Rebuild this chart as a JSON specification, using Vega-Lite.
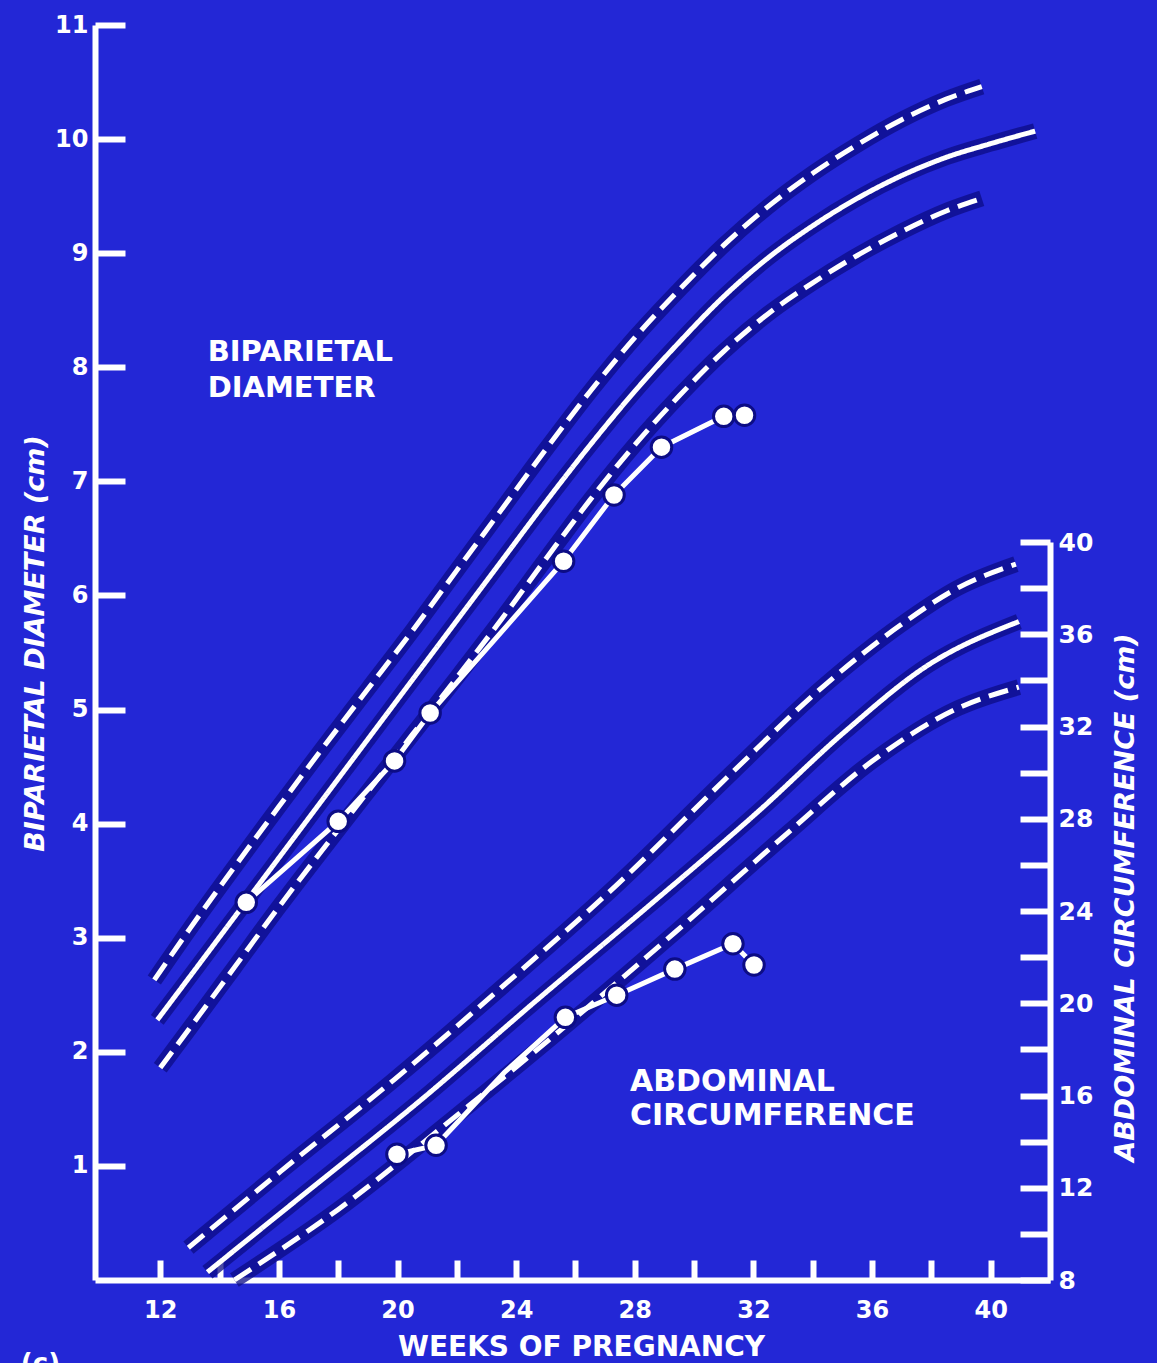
{
  "$schema": "https://vega.github.io/schema/vega-lite/v6.json",
  "width": 955,
  "height": 1255,
  "autosize": {"type": "none"},
  "padding": {"left": 95, "top": 25, "right": 107, "bottom": 83},
  "background": "#2327d6",
  "config": {
    "view": {"stroke": null},
    "axis": {
      "grid": false,
      "domainColor": "white",
      "domainWidth": 6,
      "tickColor": "white",
      "tickWidth": 6,
      "labelColor": "white",
      "labelFont": "DejaVu Sans",
      "labelFontWeight": "bold",
      "labelFontSize": 24,
      "titleColor": "white",
      "titleFont": "DejaVu Sans",
      "titleFontWeight": "bold"
    }
  },
  "datasets": {
    "bpd_curves": [
      {"series": "upper", "week": 11.8, "bpd": 2.63},
      {"series": "upper", "week": 13.0, "bpd": 3.08},
      {"series": "upper", "week": 14.5, "bpd": 3.62},
      {"series": "upper", "week": 16.0, "bpd": 4.15},
      {"series": "upper", "week": 17.5, "bpd": 4.67},
      {"series": "upper", "week": 19.0, "bpd": 5.18},
      {"series": "upper", "week": 20.5, "bpd": 5.69},
      {"series": "upper", "week": 22.0, "bpd": 6.22},
      {"series": "upper", "week": 23.5, "bpd": 6.75},
      {"series": "upper", "week": 25.0, "bpd": 7.28},
      {"series": "upper", "week": 26.5, "bpd": 7.79},
      {"series": "upper", "week": 28.0, "bpd": 8.26},
      {"series": "upper", "week": 29.5, "bpd": 8.68},
      {"series": "upper", "week": 31.0, "bpd": 9.07},
      {"series": "upper", "week": 32.5, "bpd": 9.41},
      {"series": "upper", "week": 34.0, "bpd": 9.7},
      {"series": "upper", "week": 35.5, "bpd": 9.95},
      {"series": "upper", "week": 37.0, "bpd": 10.17},
      {"series": "upper", "week": 38.5, "bpd": 10.35},
      {"series": "upper", "week": 39.7, "bpd": 10.46},
      {"series": "mean", "week": 11.9, "bpd": 2.28},
      {"series": "mean", "week": 13.0, "bpd": 2.66},
      {"series": "mean", "week": 14.5, "bpd": 3.18},
      {"series": "mean", "week": 16.0, "bpd": 3.7},
      {"series": "mean", "week": 17.5, "bpd": 4.22},
      {"series": "mean", "week": 19.0, "bpd": 4.74},
      {"series": "mean", "week": 20.5, "bpd": 5.26},
      {"series": "mean", "week": 22.0, "bpd": 5.78},
      {"series": "mean", "week": 23.5, "bpd": 6.3},
      {"series": "mean", "week": 25.0, "bpd": 6.82},
      {"series": "mean", "week": 26.5, "bpd": 7.32},
      {"series": "mean", "week": 28.0, "bpd": 7.79},
      {"series": "mean", "week": 29.5, "bpd": 8.22},
      {"series": "mean", "week": 31.0, "bpd": 8.62},
      {"series": "mean", "week": 32.5, "bpd": 8.96},
      {"series": "mean", "week": 34.0, "bpd": 9.24},
      {"series": "mean", "week": 35.5, "bpd": 9.48},
      {"series": "mean", "week": 37.0, "bpd": 9.68},
      {"series": "mean", "week": 38.5, "bpd": 9.84},
      {"series": "mean", "week": 40.0, "bpd": 9.96},
      {"series": "mean", "week": 41.5, "bpd": 10.07},
      {"series": "lower", "week": 12.0, "bpd": 1.86},
      {"series": "lower", "week": 13.0, "bpd": 2.21},
      {"series": "lower", "week": 14.5, "bpd": 2.74},
      {"series": "lower", "week": 16.0, "bpd": 3.27},
      {"series": "lower", "week": 17.5, "bpd": 3.78},
      {"series": "lower", "week": 19.0, "bpd": 4.28},
      {"series": "lower", "week": 20.5, "bpd": 4.78},
      {"series": "lower", "week": 22.0, "bpd": 5.28},
      {"series": "lower", "week": 23.5, "bpd": 5.79},
      {"series": "lower", "week": 25.0, "bpd": 6.32},
      {"series": "lower", "week": 26.5, "bpd": 6.84},
      {"series": "lower", "week": 28.0, "bpd": 7.32},
      {"series": "lower", "week": 29.5, "bpd": 7.75},
      {"series": "lower", "week": 31.0, "bpd": 8.14},
      {"series": "lower", "week": 32.5, "bpd": 8.47},
      {"series": "lower", "week": 34.0, "bpd": 8.74},
      {"series": "lower", "week": 35.5, "bpd": 8.98},
      {"series": "lower", "week": 37.0, "bpd": 9.19},
      {"series": "lower", "week": 38.5, "bpd": 9.37},
      {"series": "lower", "week": 39.7, "bpd": 9.48}
    ],
    "bpd_obs": [
      {"week": 14.9, "bpd": 3.31},
      {"week": 18.0, "bpd": 4.02},
      {"week": 19.9, "bpd": 4.55},
      {"week": 21.1, "bpd": 4.97},
      {"week": 25.6, "bpd": 6.3},
      {"week": 27.3, "bpd": 6.88},
      {"week": 28.9, "bpd": 7.3},
      {"week": 31.0, "bpd": 7.57},
      {"week": 31.7, "bpd": 7.58}
    ],
    "ac_curves": [
      {"series": "upper", "week": 12.95, "ac": 9.4},
      {"series": "upper", "week": 16.06, "ac": 12.71},
      {"series": "upper", "week": 19.88, "ac": 16.68},
      {"series": "upper", "week": 23.67, "ac": 20.87},
      {"series": "upper", "week": 27.45, "ac": 25.2},
      {"series": "upper", "week": 31.28, "ac": 30.0},
      {"series": "upper", "week": 34.32, "ac": 33.7},
      {"series": "upper", "week": 36.96, "ac": 36.4},
      {"series": "upper", "week": 38.88, "ac": 38.0},
      {"series": "upper", "week": 40.85, "ac": 39.04},
      {"series": "mean", "week": 13.59, "ac": 8.34},
      {"series": "mean", "week": 17.0, "ac": 11.88},
      {"series": "mean", "week": 20.83, "ac": 15.85},
      {"series": "mean", "week": 24.61, "ac": 20.04},
      {"series": "mean", "week": 28.44, "ac": 24.19},
      {"series": "mean", "week": 32.22, "ac": 28.38},
      {"series": "mean", "week": 35.06, "ac": 31.75},
      {"series": "mean", "week": 37.9, "ac": 34.67},
      {"series": "mean", "week": 40.95, "ac": 36.55},
      {"series": "lower", "week": 14.5, "ac": 8.0},
      {"series": "lower", "week": 17.99, "ac": 11.05},
      {"series": "lower", "week": 21.77, "ac": 14.9},
      {"series": "lower", "week": 25.56, "ac": 18.9},
      {"series": "lower", "week": 29.38, "ac": 23.1},
      {"series": "lower", "week": 33.17, "ac": 27.4},
      {"series": "lower", "week": 36.01, "ac": 30.5},
      {"series": "lower", "week": 38.89, "ac": 32.79},
      {"series": "lower", "week": 40.95, "ac": 33.71}
    ],
    "ac_obs": [
      {"week": 19.98, "ac": 13.45, "marker": true},
      {"week": 21.3, "ac": 13.84, "marker": true},
      {"week": 23.6, "ac": 17.0, "marker": false},
      {"week": 25.66, "ac": 19.39, "marker": true},
      {"week": 27.39, "ac": 20.35, "marker": true},
      {"week": 29.35, "ac": 21.48, "marker": true},
      {"week": 31.31, "ac": 22.58, "marker": true},
      {"week": 32.02, "ac": 21.66, "marker": true}
    ],
    "bpd_label": [{"text": "BIPARIETAL\nDIAMETER", "week": 13.6, "bpd": 8.13}],
    "ac_label": [{"text": "ABDOMINAL\nCIRCUMFERENCE", "week": 27.84, "bpd": 1.735}],
    "corner": [{"text": "(c)", "week": 7.3, "bpd": -0.62}]
  },
  "layer": [
    {
      "encoding": {
        "x": {
          "field": "week", "type": "quantitative",
          "scale": {"domain": [9.8, 42], "nice": false, "zero": false},
          "axis": {
            "title": "WEEKS OF PREGNANCY",
            "values": [12, 14, 16, 18, 20, 22, 24, 26, 28, 30, 32, 34, 36, 38, 40],
            "labelExpr": "datum.value % 4 === 0 ? datum.label : ''",
            "tickSize": -20,
            "labelPadding": 38,
            "labelFontSize": 24,
            "titleFontSize": 28,
            "titleY": 67,
            "titleX": 486,
            "titleAlign": "center",
            "titleBaseline": "middle"
          }
        },
        "y": {
          "field": "bpd", "type": "quantitative",
          "scale": {"domain": [0, 11], "nice": false, "zero": false},
          "axis": {
            "orient": "left",
            "title": "BIPARIETAL DIAMETER (cm)",
            "values": [1, 2, 3, 4, 5, 6, 7, 8, 9, 10, 11],
            "tickSize": -30,
            "labelPadding": 37,
            "labelFontSize": 24,
            "titleFontSize": 27,
            "titleFontStyle": "italic",
            "titleX": -60,
            "titleY": 618,
            "titleAngle": 270,
            "titleAlign": "center",
            "titleBaseline": "middle"
          }
        }
      },
      "layer": [
        {
          "data": {"name": "bpd_curves"},
          "mark": {"type": "line", "stroke": "#0c0c85", "strokeWidth": 16, "interpolate": "monotone", "opacity": 0.75},
          "encoding": {"detail": {"field": "series"}}
        },
        {
          "data": {"name": "bpd_curves"},
          "mark": {"type": "line", "stroke": "white", "strokeWidth": 5, "interpolate": "monotone"},
          "encoding": {
            "detail": {"field": "series"},
            "strokeDash": {"field": "series", "type": "nominal", "scale": {"domain": ["upper", "mean", "lower"], "range": [[20, 9], [1, 0], [20, 9]]}, "legend": null}
          }
        },
        {
          "data": {"name": "bpd_obs"},
          "mark": {"type": "line", "stroke": "white", "strokeWidth": 5},
          "encoding": {}
        },
        {
          "data": {"name": "bpd_obs"},
          "mark": {"type": "point", "filled": true, "fill": "white", "size": 420, "stroke": "#0c0c85", "strokeWidth": 3, "opacity": 1},
          "encoding": {}
        },
        {
          "data": {"name": "bpd_label"},
          "mark": {"type": "text", "align": "left", "baseline": "middle", "font": "DejaVu Sans", "fontWeight": "bold", "fontSize": 29, "lineHeight": 36, "lineBreak": "\n", "color": "white"},
          "encoding": {"text": {"field": "text"}}
        },
        {
          "data": {"name": "ac_label"},
          "mark": {"type": "text", "align": "left", "baseline": "middle", "font": "DejaVu Sans", "fontWeight": "bold", "fontSize": 30, "lineHeight": 34, "lineBreak": "\n", "color": "white"},
          "encoding": {"text": {"field": "text"}}
        },
        {
          "data": {"name": "corner"},
          "mark": {"type": "text", "align": "left", "baseline": "top", "font": "DejaVu Sans", "fontWeight": "bold", "fontSize": 26, "color": "white"},
          "encoding": {"text": {"field": "text"}}
        }
      ]
    },
    {
      "encoding": {
        "x": {
          "field": "week", "type": "quantitative",
          "scale": {"domain": [9.8, 42], "nice": false, "zero": false},
          "axis": {
            "title": "WEEKS OF PREGNANCY",
            "values": [12, 14, 16, 18, 20, 22, 24, 26, 28, 30, 32, 34, 36, 38, 40],
            "labelExpr": "datum.value % 4 === 0 ? datum.label : ''",
            "tickSize": -20,
            "labelPadding": 38,
            "labelFontSize": 24,
            "titleFontSize": 28,
            "titleY": 67,
            "titleX": 486,
            "titleAlign": "center",
            "titleBaseline": "middle"
          }
        },
        "y": {
          "field": "ac", "type": "quantitative",
          "scale": {"domain": [8, 40], "range": [1255, 517], "nice": false, "zero": false},
          "axis": {
            "orient": "right",
            "title": "ABDOMINAL CIRCUMFERENCE (cm)",
            "values": [8, 10, 12, 14, 16, 18, 20, 22, 24, 26, 28, 30, 32, 34, 36, 38, 40],
            "labelExpr": "datum.value % 4 === 0 ? datum.label : ''",
            "tickSize": -30,
            "labelPadding": 38,
            "labelFontSize": 25,
            "titleFontSize": 27,
            "titleFontStyle": "italic",
            "titleX": 75,
            "titleY": 872,
            "titleAngle": 270,
            "titleAlign": "center",
            "titleBaseline": "middle"
          }
        }
      },
      "layer": [
        {
          "data": {"name": "ac_curves"},
          "mark": {"type": "line", "stroke": "#0c0c85", "strokeWidth": 16, "interpolate": "monotone", "opacity": 0.75},
          "encoding": {"detail": {"field": "series"}}
        },
        {
          "data": {"name": "ac_curves"},
          "mark": {"type": "line", "stroke": "white", "strokeWidth": 5, "interpolate": "monotone"},
          "encoding": {
            "detail": {"field": "series"},
            "strokeDash": {"field": "series", "type": "nominal", "scale": {"domain": ["upper", "mean", "lower"], "range": [[20, 9], [1, 0], [20, 9]]}, "legend": null}
          }
        },
        {
          "data": {"name": "ac_obs"},
          "mark": {"type": "line", "stroke": "white", "strokeWidth": 5},
          "encoding": {}
        },
        {
          "data": {"name": "ac_obs"},
          "transform": [{"filter": "datum.marker"}],
          "mark": {"type": "point", "filled": true, "fill": "white", "size": 420, "stroke": "#0c0c85", "strokeWidth": 3, "opacity": 1},
          "encoding": {}
        }
      ]
    }
  ],
  "resolve": {"scale": {"y": "independent"}, "axis": {"y": "independent"}}
}
